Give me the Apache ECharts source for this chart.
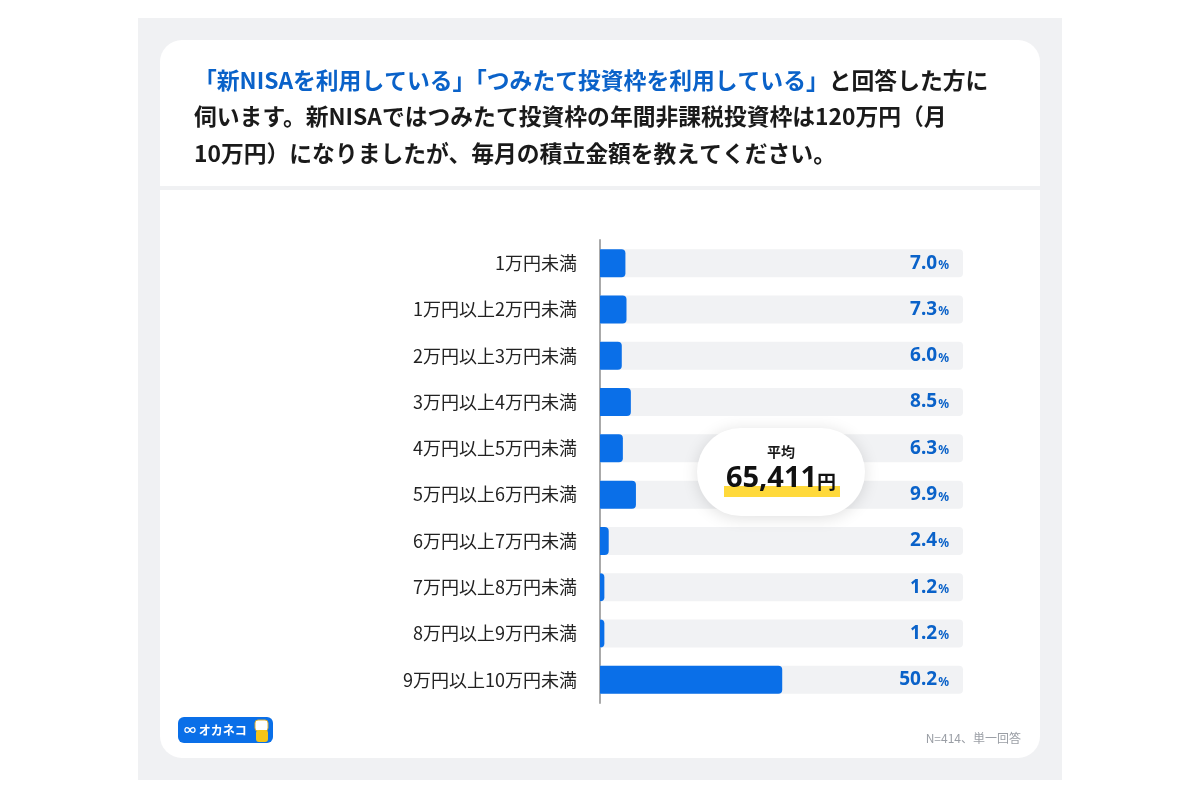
<!DOCTYPE html>
<html><head><meta charset="utf-8">
<script src="https://cdn.jsdelivr.net/npm/echarts@6/dist/echarts.min.js"></script>
<style>html,body{margin:0;padding:0;background:#fff}#c{width:1200px;height:800px}</style>
</head><body><div id="c"></div>
<script>
const categories = ['1万円未満','1万円以上2万円未満','2万円以上3万円未満','3万円以上4万円未満','4万円以上5万円未満','5万円以上6万円未満','6万円以上7万円未満','7万円以上8万円未満','8万円以上9万円未満','9万円以上10万円未満'];
const values = [7.0, 7.3, 6.0, 8.5, 6.3, 9.9, 2.4, 1.2, 1.2, 50.2];
const fullScale = categories.map(() => 100);
const averageText = '65,411';
const titleBlue = '「新NISAを利用している」「つみたて投資枠を利用している」';
const titleRest1 = 'と回答した方に';
const titleLine2 = '伺います。新NISAではつみたて投資枠の年間非課税投資枠は120万円（月';
const titleLine3 = '10万円）になりましたが、毎月の積立金額を教えてください。';
const noteText = 'N=414、単一回答';

const FONT = '"Noto Sans CJK JP", "Noto Sans", sans-serif';
const chart = echarts.init(document.getElementById('c'));
chart.setOption({
  backgroundColor: '#ffffff',
  textStyle: { fontFamily: FONT },
  title: {
    left: 189, top: 57,
    text: '{b|' + titleBlue + '}{k|' + titleRest1 + '}\n{k|' + titleLine2 + '}\n{k|' + titleLine3 + '}',
    textStyle: {
      fontFamily: FONT,
      rich: {
        b: { color: '#0a62c9', fontSize: 22.8, fontWeight: 'bold', lineHeight: 36.5, fontFamily: FONT },
        k: { color: '#1a1a1a', fontSize: 22.8, fontWeight: 'bold', lineHeight: 36.5, fontFamily: FONT }
      }
    }
  },
  graphic: [
    { type: 'rect', z: -10, shape: { x: 138, y: 18, width: 924, height: 762 }, style: { fill: '#f0f1f3' } },
    { type: 'rect', z: -9, shape: { x: 160, y: 40, width: 880, height: 718, r: 22 }, style: { fill: '#ffffff' } },
    { type: 'rect', z: -8, shape: { x: 160, y: 186, width: 880, height: 4 }, style: { fill: '#f0f1f3' } },
    // average bubble
    { type: 'rect', z: 20, shape: { x: 697, y: 428, width: 168, height: 88, r: 44 },
      style: { fill: '#ffffff', shadowBlur: 16, shadowColor: 'rgba(0,0,0,0.13)', shadowOffsetY: 2 } },
    { type: 'rect', z: 21, shape: { x: 724, y: 486, width: 116, height: 11 }, style: { fill: '#ffd93b' } },
    { type: 'text', z: 22, x: 781, y: 452, style: { text: '平均', fill: '#1a1a1a', font: 'bold 14px ' + FONT, textAlign: 'center', textVerticalAlign: 'middle' } },
    { type: 'text', z: 22, x: 781, y: 479, style: { text: '{n|' + averageText + '}{u|円}', textAlign: 'center', textVerticalAlign: 'middle',
        rich: { n: { fontSize: 29, fontWeight: 'bold', fill: '#111', fontFamily: '"Noto Sans", sans-serif' }, u: { fontSize: 19, fontWeight: 'bold', fill: '#111', fontFamily: FONT, padding: [6,0,0,0] } } } },
    // logo
    { type: 'rect', z: 10, shape: { x: 178, y: 717, width: 95, height: 26, r: 6 }, style: { fill: '#0a6fe8' } },
    { type: 'text', z: 11, x: 184, y: 730, style: { text: '∞ オカネコ', fill: '#ffffff', font: 'bold 12px ' + FONT, textVerticalAlign: 'middle' } },
    { type: 'rect', z: 11, shape: { x: 255, y: 720, width: 13, height: 11, r: 3 }, style: { fill: '#ffffff', stroke: '#e0b030', lineWidth: 1 } },
    { type: 'rect', z: 11, shape: { x: 256, y: 730, width: 12, height: 12, r: 3 }, style: { fill: '#f5c518' } },
    { type: 'text', z: 10, x: 1021, y: 738, style: { text: noteText, fill: '#9a9ea5', font: '12px ' + FONT, textAlign: 'right', textVerticalAlign: 'middle' } }
  ],
  grid: { left: 600, right: 237, top: 240, bottom: 97, containLabel: false },
  xAxis: { type: 'value', min: 0, max: 100, show: false },
  yAxis: {
    type: 'category', data: categories, inverse: true,
    axisLine: { show: true, lineStyle: { color: '#aaaaaa', width: 2 } },
    axisTick: { show: false },
    axisLabel: { color: '#222222', fontSize: 18, margin: 23, fontFamily: FONT }
  },
  series: [
    {
      type: 'bar', data: fullScale, barWidth: 28, silent: true,
      itemStyle: { color: '#f1f2f4', borderRadius: [0, 4, 4, 0] },
      label: {
        show: true, position: 'insideRight', distance: 14,
        formatter: p => '{v|' + values[p.dataIndex].toFixed(1) + '}{p|%}',
        rich: {
          v: { color: '#0a62c9', fontSize: 19, fontWeight: 'bold', fontFamily: '"Noto Sans", sans-serif' },
          p: { color: '#0a62c9', fontSize: 12, fontWeight: 'bold', fontFamily: '"Noto Sans", sans-serif', padding: [5, 0, 0, 1] }
        }
      },
      z: 2
    },
    {
      type: 'bar', data: values, barWidth: 28, barGap: '-100%',
      itemStyle: { color: '#0a6fe8', borderRadius: [0, 4, 4, 0] },
      z: 3
    }
  ]
});
</script></body></html>
